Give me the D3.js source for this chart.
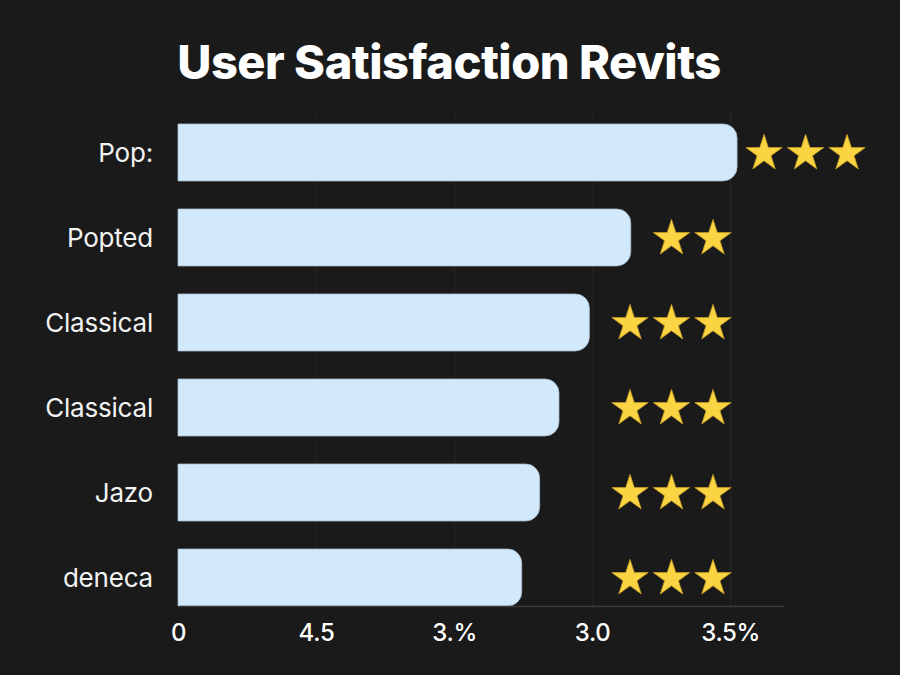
<!DOCTYPE html>
<html>
<head>
<meta charset="utf-8">
<script src="https://cdn.jsdelivr.net/npm/d3@7"></script>
<style>
  html, body { margin: 0; padding: 0; background: #1a1a1a; }
  svg { display: block; }
</style>
</head>
<body>
<div class="canvas"></div>
<script>
// data
const categories = ["Pop:", "Popted", "Classical", "Classical", "Jazo", "deneca"];
const values = [4.05, 3.28, 2.98, 2.76, 2.62, 2.49];
const ratings = [3, 2, 3, 3, 3, 3];
const tickValues = [0, 1, 2, 3, 4];
const tickLabels = ["0", "4.5", "3.%", "3.0", "3.5%"];
const title = "User Satisfaction Revits";

// dimensions
const dims = { width: 900, height: 675 };
const plot = { left: 178, right: 784, top: 124, bottom: 606 };

const svg = d3
  .select(".canvas")
  .append("svg")
  .attr("width", dims.width)
  .attr("height", dims.height);

svg.append("rect")
  .attr("width", dims.width)
  .attr("height", dims.height)
  .attr("fill", "#1a1a1a");

// scales
const x = d3.scaleLinear().domain([0, 4.39]).range([plot.left, plot.right]);
const y = d3
  .scaleBand()
  .domain(d3.range(categories.length))
  .range([plot.top, plot.bottom])
  .paddingInner(0.33)
  .paddingOuter(0);

// faint vertical grid
svg.append("g")
  .attr("transform", `translate(0, ${plot.bottom})`)
  .call(d3.axisBottom(x).tickValues(tickValues.slice(1)).tickSize(-(plot.bottom - 112)).tickFormat(""))
  .call((g) => g.select(".domain").remove())
  .selectAll("line")
  .attr("stroke", "#222222")
  .attr("stroke-width", 1.5);

// title
svg.append("text")
  .attr("x", 449)
  .attr("y", 79)
  .attr("text-anchor", "middle")
  .attr("fill", "#ffffff")
  .attr("font-family", "Inter, 'Noto Sans', sans-serif")
  .attr("font-weight", 800)
  .attr("font-size", 47)
  .attr("letter-spacing", -0.5)
  .text(title);

// bar with rounded right end
const r = 14;
const barPath = (i) => {
  const x0 = x(0), x1 = x(values[i]);
  const y0 = y(i), h = y.bandwidth();
  const p = d3.path();
  p.moveTo(x0, y0);
  p.lineTo(x1 - r, y0);
  p.arcTo(x1, y0, x1, y0 + r, r);
  p.lineTo(x1, y0 + h - r);
  p.arcTo(x1, y0 + h, x1 - r, y0 + h, r);
  p.lineTo(x0, y0 + h);
  p.closePath();
  return p.toString();
};

svg.append("g")
  .selectAll("path")
  .data(d3.range(categories.length))
  .join("path")
  .attr("d", barPath)
  .attr("fill", "#d2e9fc")
  .attr("stroke", "#a9bccc")
  .attr("stroke-width", 0.8);

// category labels
svg.append("g")
  .selectAll("text")
  .data(categories)
  .join("text")
  .attr("x", 153)
  .attr("y", (d, i) => y(i) + y.bandwidth() / 2)
  .attr("dy", "0.35em")
  .attr("text-anchor", "end")
  .attr("fill", "#f2f2f2")
  .attr("font-family", "Inter, 'Noto Sans', sans-serif")
  .attr("font-size", 26)
  .attr("letter-spacing", -0.2)
  .text((d) => d);

// star ratings
const star = d3.symbol().type(d3.symbolStar).size(410);
const starGap = 41.5;
const starRows = svg.append("g")
  .selectAll("g")
  .data(d3.range(categories.length))
  .join("g")
  .attr("transform", (i) => {
    const lastX = Math.max(x(values[i]) + 27 + (ratings[i] - 1) * starGap, 713);
    return `translate(${lastX - (ratings[i] - 1) * starGap}, ${y(i) + y.bandwidth() / 2 + 1})`;
  });

starRows
  .selectAll("path")
  .data((i) => d3.range(ratings[i]))
  .join("path")
  .attr("transform", (k) => `translate(${k * starGap}, 0)`)
  .attr("d", star)
  .attr("fill", "#fbd443")
  .attr("stroke", "#c79d24")
  .attr("stroke-width", 0.8);

// x axis
const xAxis = svg.append("g")
  .attr("transform", `translate(0, ${plot.bottom})`)
  .call(
    d3.axisBottom(x)
      .tickValues(tickValues)
      .tickSize(0)
      .tickPadding(18)
      .tickFormat((d, i) => tickLabels[i])
  );
xAxis.select(".domain").attr("stroke", "#3a3a3a").attr("stroke-width", 1.5);
xAxis.selectAll("text")
  .attr("fill", "#ffffff")
  .attr("font-family", "Inter, 'Noto Sans', sans-serif")
  .attr("font-weight", 500)
  .attr("font-size", 24)
  .attr("letter-spacing", -0.3);
</script>
</body>
</html>
